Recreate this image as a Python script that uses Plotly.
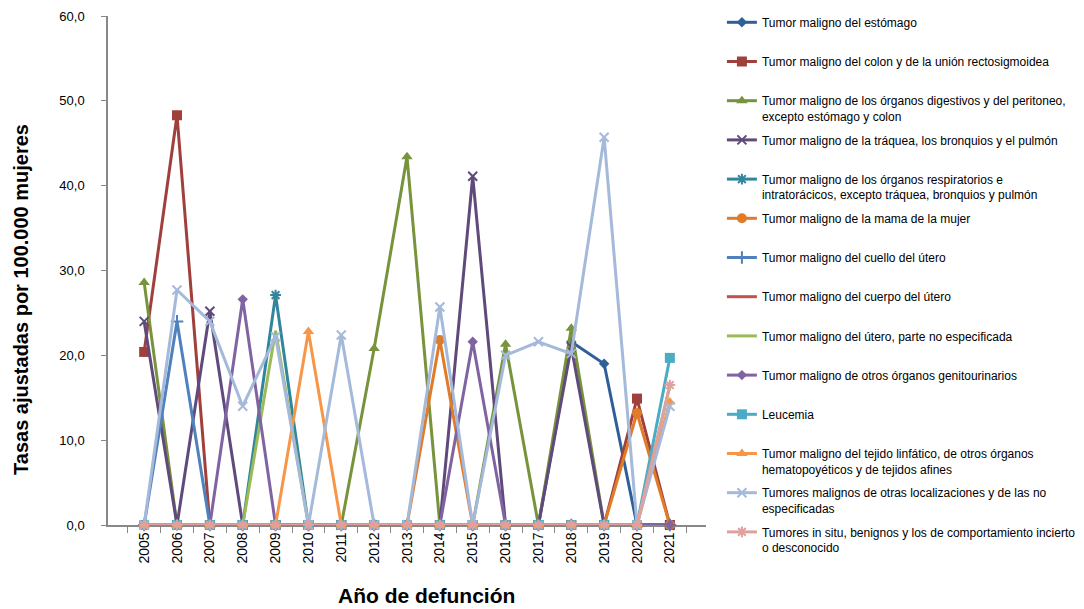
import plotly.graph_objects as go

years = [str(y) for y in range(2005, 2022)]

estomago        = [0, 0, 0, 0, 0, 0, 0, 0, 0, 0, 0, 0, 0, 21.6, 19.0, 0, 0]
colon           = [20.4, 48.3, 0, 0, 0, 0, 0, 0, 0, 0, 0, 0, 0, 0, 0, 14.9, 0]
digestivos      = [28.6, 0, 0, 0, 0, 0, 0, 20.8, 43.4, 0, 0, 21.3, 0, 23.2, 0, 0, 0]
traquea         = [24.0, 0, 25.2, 0, 0, 0, 0, 0, 0, 0, 41.1, 0, 0, 21.0, 0, 0, 0]
respiratorios   = [0, 0, 0, 0, 27.1, 0, 0, 0, 0, 0, 0, 0, 0, 0, 0, 0, 0]
mama            = [0, 0, 0, 0, 0, 0, 0, 0, 0, 21.8, 0, 0, 0, 0, 0, 13.2, 0]
cuello          = [0, 24.0, 0, 0, 0, 0, 0, 0, 0, 0, 0, 0, 0, 0, 0, 0, 0]
cuerpo          = [0, 0, 0, 0, 0, 0, 0, 0, 0, 0, 0, 0, 0, 0, 0, 0, 0]
utero_ne        = [0, 0, 0, 0, 22.9, 0, 0, 0, 0, 0, 0, 0, 0, 0, 0, 0, 16.4]
genitourinarios = [0, 0, 0, 26.6, 0, 0, 0, 0, 0, 0, 21.6, 0, 0, 0, 0, 0, 0]
leucemia        = [0, 0, 0, 0, 0, 0, 0, 0, 0, 0, 0, 0, 0, 0, 0, 0, 19.7]
linfatico       = [0, 0, 0, 0, 0, 22.8, 0, 0, 0, 0, 0, 0, 0, 0, 0, 0, 14.5]
otras           = [0, 27.7, 24.0, 14.0, 22.2, 0, 22.4, 0, 0, 25.7, 0, 20.0, 21.6, 20.2, 45.7, 0, 14.0]
in_situ         = [0, 0, 0, 0, 0, 0, 0, 0, 0, 0, 0, 0, 0, 0, 0, 0, 16.5]

names = [
    "Tumor maligno del estómago",
    "Tumor maligno del colon y de la unión rectosigmoidea",
    "Tumor maligno de los órganos digestivos y del peritoneo,<br>excepto estómago y colon",
    "Tumor maligno de la tráquea, los bronquios y el pulmón",
    "Tumor maligno de los órganos respiratorios e<br>intratorácicos, excepto tráquea, bronquios y pulmón",
    "Tumor maligno de la mama de la mujer",
    "Tumor maligno del cuello del útero",
    "Tumor maligno del cuerpo del útero",
    "Tumor maligno del útero, parte no especificada",
    "Tumor maligno de otros órganos genitourinarios",
    "Leucemia",
    "Tumor maligno del tejido linfático, de otros órganos<br>hematopoyéticos y de tejidos afines",
    "Tumores malignos de otras localizaciones y de las no<br>especificadas",
    "Tumores in situ, benignos y los de comportamiento incierto<br>o desconocido",
]
series = [estomago, colon, digestivos, traquea, respiratorios, mama, cuello,
          cuerpo, utero_ne, genitourinarios, leucemia, linfatico, otras, in_situ]
colors = ["#2F5F98", "#A0403D", "#77933C", "#604A7B", "#31859C", "#E07B2A", "#4F81BD",
          "#C0504D", "#9BBB59", "#8064A2", "#4BACC6", "#F79646", "#A5B9DA", "#E0A09E"]
symbols = ["diamond", "square", "triangle-up", "x-thin", "asterisk", "circle", "cross-thin",
           None, None, "diamond", "square", "triangle-up", "x-thin", "asterisk"]
sizes = [8, 10, 10, 9, 9, 10, 9, 0, 0, 8, 10, 10, 9, 9]

fig = go.Figure()
for i, (nm, vals, c, s, sz) in enumerate(zip(names, series, colors, symbols, sizes)):
    label = nm if "<br>" in nm else nm + "<br> "
    if s is None:
        mode = "lines"
        marker = dict()
    else:
        mode = "lines+markers"
        thin = s in ("x-thin", "cross-thin", "asterisk")
        marker = dict(symbol=s, size=sz, color=c,
                      line=dict(color=c, width=2 if thin else 0))
    fig.add_trace(go.Scatter(
        x=years, y=vals, name=label, mode=mode,
        line=dict(color=c, width=3), marker=marker,
        cliponaxis=False, legendgroup=str(i)))

L, R, T, B = 108, 378.4, 16, 84
pw = 1084 - L - R
ph = 609 - T - B

fig.update_layout(
    width=1084, height=609,
    margin=dict(l=L, r=R, t=T, b=B, autoexpand=False),
    paper_bgcolor="white", plot_bgcolor="white",
    separators=",.",
    font=dict(family="Liberation Sans, Arial, sans-serif", color="#000000"),
    showlegend=True,
    legend=dict(x=1.0266, xanchor="left", yref="container", y=1 - 8 / 609, yanchor="top",
                maxheight=600,
                font=dict(size=12, family="Liberation Sans, Arial, sans-serif"),
                valign="top", tracegroupgap=5, itemwidth=30,
                bgcolor="rgba(0,0,0,0)"),
    xaxis=dict(type="category", tickson="boundaries", ticks="outside", ticklen=6,
               tickcolor="#888888", showline=True, linecolor="#888888", linewidth=1.5,
               tickangle=-90, tickfont=dict(size=14), showgrid=False,
               layer="below traces"),
    yaxis=dict(range=[0, 60], dtick=10, tickformat=".1f", ticks="outside", ticklen=5,
               tickcolor="#888888", showline=True, linecolor="#888888", linewidth=1.5,
               tickfont=dict(size=13), showgrid=False, zeroline=False,
               ticklabelstandoff=14, layer="below traces"),
    annotations=[
        dict(text="<b>Año de defunción</b>", xref="paper", yref="paper",
             x=(426 - L) / pw, y=(525 - 595) / ph, xanchor="center", yanchor="middle",
             showarrow=False, font=dict(size=21)),
        dict(text="<b>Tasas ajustadas por 100.000 mujeres</b>", xref="paper", yref="paper",
             x=(21 - L) / pw, y=(525 - 299) / ph, xanchor="center", yanchor="middle",
             textangle=-90, showarrow=False, font=dict(size=20)),
    ],
)

fig.write_html("out.html", config={"displayModeBar": False},
               post_script="document.body.style.margin='0';")
